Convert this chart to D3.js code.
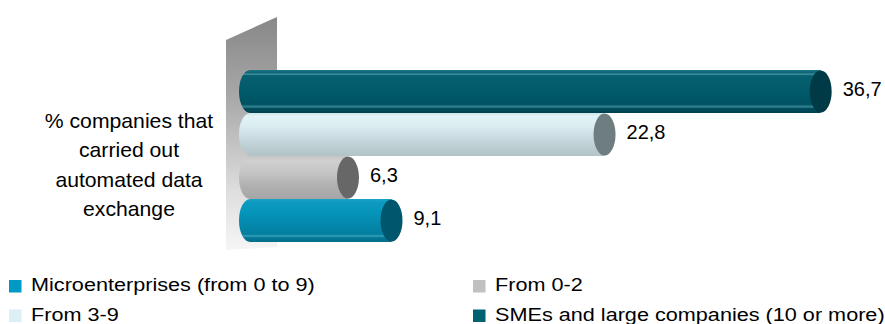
<!DOCTYPE html>
<html>
<head>
<meta charset="utf-8">
<script src="https://cdn.jsdelivr.net/npm/d3@7"></script>
<style>
  html, body { margin: 0; padding: 0; background: #fff; }
  svg { display: block; font-family: "Liberation Sans", Arial, sans-serif; }
</style>
</head>
<body>
<svg id="chart" width="885" height="324"></svg>
<script>
// ---- data ----
const categoryLines = ["% companies that", "carried out", "automated data", "exchange"];
const seriesNames = ["SMEs and large companies (10 or more)", "From 3-9", "From 0-2", "Microenterprises (from 0 to 9)"];
const seriesValues = [36.7, 22.8, 6.3, 9.1];
const valueLabels = ["36,7", "22,8", "6,3", "9,1"];
const legendOrder = ["Microenterprises (from 0 to 9)", "From 0-2", "From 3-9", "SMEs and large companies (10 or more)"];

// ---- styles ----
const bodyStops = {
  "SMEs and large companies (10 or more)": [["0", "#1f7384"], ["0.06", "#0d6676"], ["0.1", "#3f8e9c"], ["0.13", "#07606f"], ["0.5", "#005a6a"], ["0.8", "#005262"], ["0.86", "#3a8796"], ["0.89", "#004d5c"], ["1", "#00414e"]],
  "From 3-9": [["0", "#cfe6ec"], ["0.08", "#e2f3f7"], ["0.3", "#dcedf1"], ["0.55", "#cadde2"], ["0.8", "#bccdd1"], ["1", "#b2c4c8"]],
  "From 0-2": [["0", "#c4c4c4"], ["0.1", "#d0d0d0"], ["0.4", "#c4c4c4"], ["0.7", "#b0b0b0"], ["1", "#a6a6a6"]],
  "Microenterprises (from 0 to 9)": [["0", "#1aa3c6"], ["0.08", "#0d9ac0"], ["0.3", "#0595bb"], ["0.6", "#0388ab"], ["0.82", "#037ea0"], ["0.86", "#3aa0bb"], ["0.9", "#027897"], ["1", "#026e8a"]]
};
const capColor = {
  "SMEs and large companies (10 or more)": "#003a46",
  "From 3-9": "#6e7e80",
  "From 0-2": "#676767",
  "Microenterprises (from 0 to 9)": "#00566c"
};
const legendColor = {
  "Microenterprises (from 0 to 9)": "#0099c4",
  "From 0-2": "#c0c0c0",
  "From 3-9": "#dceff4",
  "SMEs and large companies (10 or more)": "#006172"
};

const svg = d3.select("#chart");
const defs = svg.append("defs");

const x = d3.scaleLinear().domain([0, 40]).range([250, 872]);
const y = d3.scaleBand().domain(seriesNames).range([70, 242]).padding(0);

// wall
const wg = defs.append("linearGradient").attr("id", "wallGrad").attr("x1", 0).attr("y1", 0).attr("x2", 0).attr("y2", 1);
wg.append("stop").attr("offset", "0").attr("stop-color", "#878787");
wg.append("stop").attr("offset", "0.35").attr("stop-color", "#a9a9a9");
wg.append("stop").attr("offset", "0.75").attr("stop-color", "#dedede");
wg.append("stop").attr("offset", "1").attr("stop-color", "#f6f6f6");
const wallL = x(0) - 24, wallR = x(0) + 27;
svg.append("path")
  .attr("d", `M${wallL},40 L${wallR},17 L${wallR},247 L${wallL},250 Z`)
  .attr("fill", "url(#wallGrad)");

// bars (cylinders)
const rx = 11;
seriesNames.forEach((name, i) => {
  const id = "g" + i;
  const g = defs.append("linearGradient").attr("id", id).attr("x1", 0).attr("y1", 0).attr("x2", 0).attr("y2", 1);
  bodyStops[name].forEach(s => g.append("stop").attr("offset", s[0]).attr("stop-color", s[1]));
});

const bars = svg.append("g");
seriesNames.forEach((name, i) => {
  const v = seriesValues[i];
  const top = y(name), bot = y(name) + y.bandwidth();
  const ry = y.bandwidth() / 2;
  const x0 = x(0), x1 = x(v);
  bars.append("path")
    .attr("d", `M${x1},${top} L${x0},${top} A${rx},${ry} 0 0 0 ${x0},${bot} L${x1},${bot} Z`)
    .attr("fill", `url(#g${i})`);
  bars.append("ellipse")
    .attr("cx", x1).attr("cy", top + ry)
    .attr("rx", rx).attr("ry", ry - 0.5)
    .attr("fill", capColor[name]);
  svg.append("text")
    .attr("x", x1 + rx + 11)
    .attr("y", top + ry + 4)
    .attr("font-size", 20)
    .attr("fill", "#000")
    .text(valueLabels[i]);
});

// category label
const cat = svg.append("g").attr("transform", "translate(129,0)");
categoryLines.forEach((t, i) => {
  cat.append("text")
    .attr("transform", `translate(0,${128 + i * 29.3}) scale(1.06,1)`)
    .attr("text-anchor", "middle")
    .attr("font-size", 20)
    .attr("fill", "#000")
    .text(t);
});

// legend
const legend = svg.append("g");
legendOrder.forEach((name, i) => {
  const col = i % 2, row = Math.floor(i / 2);
  const lx = col === 0 ? 9 : 473;
  const ly = 280 + row * 29.5;
  legend.append("rect")
    .attr("x", lx).attr("y", ly)
    .attr("width", 12.5).attr("height", 12.5)
    .attr("fill", legendColor[name]);
  legend.append("text")
    .attr("transform", `translate(${lx + 22},${ly + 11}) scale(1.17,1)`)
    .attr("font-size", 18.5)
    .attr("fill", "#000")
    .text(name);
});
</script>
</body>
</html>
